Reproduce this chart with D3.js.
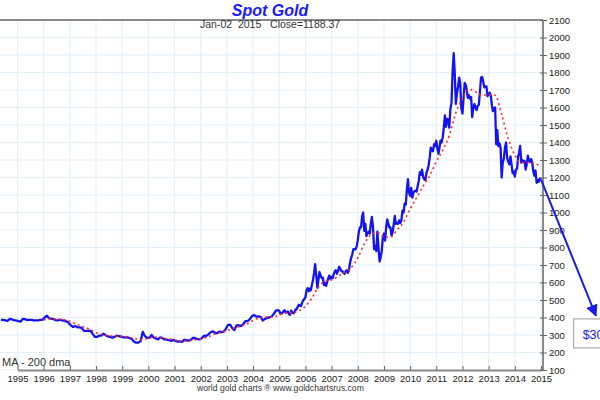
<!DOCTYPE html>
<html><head><meta charset="utf-8">
<script src="https://cdn.jsdelivr.net/npm/d3@7"></script>
<style>body{margin:0;background:#fff;}svg{display:block;font-family:"Liberation Sans",Arial,sans-serif;}</style>
</head><body>
<svg id="c" width="600" height="400"></svg>
<script>
// Spot gold, monthly (mid-month) from May 1994 to Dec 2004
const monthlyStart = [1994, 4];
const monthlyPrices = [
387,386,384,380,392,389,384,383,
379,376,392,391,385,387,386,383,384,383,387,387,
400,410,396,393,391,385,383,387,383,381,378,369,
355,346,352,344,344,341,324,324,323,325,306,289,
289,297,296,308,299,292,289,284,289,296,294,291,
287,287,286,282,277,262,256,257,265,318,293,283,
285,300,286,280,275,286,282,275,274,270,266,272,
266,262,263,260,272,270,268,273,283,283,276,275,
282,296,294,302,314,321,313,310,319,317,319,333,
357,359,340,328,355,356,351,360,379,379,389,407,
414,405,406,404,383,392,398,400,405,420,439,442
];
// Spot gold, twice a month (1st and 16th) from Jan 2005 to Dec 2014
const halfMonthStart = [2005, 0];
const halfMonthPrices = [
438,422,422,428,435,442,427,430,434,420,416,440,430,424,430,445,448,462,473,468,465,485,498,505,
516,555,568,550,565,555,585,615,655,705,640,570,615,660,640,625,628,585,598,580,605,625,640,620,
632,625,650,665,670,650,665,690,680,665,665,655,650,665,670,655,672,715,740,760,790,790,790,805,
840,890,915,915,975,1000,895,935,865,880,890,880,935,975,915,790,810,780,890,800,720,745,780,860,
880,840,920,960,940,915,915,870,885,930,980,935,940,935,955,940,955,1010,1000,1050,1045,1130,1190,1115,
1095,1140,1085,1115,1120,1125,1120,1150,1180,1230,1215,1245,1205,1190,1185,1225,1245,1270,1315,1370,1355,1350,1390,1380,
1410,1365,1335,1375,1410,1400,1430,1485,1555,1490,1535,1530,1485,1590,1625,1800,1910,1790,1620,1680,1720,1770,1740,1595,
1565,1650,1740,1730,1700,1655,1670,1650,1660,1545,1600,1620,1600,1585,1610,1615,1690,1770,1775,1750,1715,1720,1720,1665,
1675,1685,1665,1610,1580,1595,1600,1390,1470,1380,1395,1370,1200,1285,1310,1370,1400,1310,1290,1275,1320,1275,1225,1235,
1205,1245,1250,1320,1340,1380,1285,1300,1290,1295,1245,1275,1325,1300,1290,1305,1285,1235,1210,1240,1170,1185,1175,1195
];
const lastDate = [2015, 0, 2];
const lastClose = 1188.37;

// 200-day moving average, quarterly from Jan 1996
const maStart = [1996, 0];
const maValues = [
386,392,392,388, 378,362,349,333, 313,303,296,294, 293,288,278,272,
282,288,283,278, 272,265,266,272, 278,287,303,313, 325,339,348,362,
383,398,402,402, 415,428,428,438, 465,510,575,605, 615,635,660,685,
740,820,872,885, 860,860,900,945, 1020,1085,1150,1210, 1290,1355,1440,1570,
1650,1705,1690,1670, 1672,1670,1560,1420, 1330,1285,1285,1280, 1265
];

const yTicks = d3.range(100, 2101, 100);
const title = "Spot Gold";
const subtitle = "Jan-02  2015   Close=1188.37";
const maLabel = "MA - 200 dma";
const footer = "world gold charts \u00AE www.goldchartsrus.com";
const forecastLabel = "$300";
const arrowTo = [2017, 1, 5, 410];      // date parts + price at arrow tip
const boxCorner = [2016, 3, 1, 392];     // top-left of label box
const boxBottom = 226;

const svg = d3.select("#c");
const x = d3.scaleTime().domain([new Date(1995,0,1), new Date(2015,0,1)]).range([17.5, 541]);
const y = d3.scaleLinear().domain([100, 2100]).range([370, 20]);

const priceData = monthlyPrices.map((v,i)=>({d: new Date(monthlyStart[0], monthlyStart[1]+i, 15), v}))
  .concat(halfMonthPrices.map((v,i)=>({d: new Date(halfMonthStart[0], halfMonthStart[1]+Math.floor(i/2), i%2 ? 16 : 1), v})));
priceData.push({d: new Date(...lastDate), v: lastClose});
const maData = maValues.map((v,i)=>({d: new Date(maStart[0], maStart[1]+3*i, 1), v}));
maData[maData.length-1].d = new Date(...lastDate);

const defs = svg.append("defs");
defs.append("clipPath").attr("id","clip")
  .append("rect").attr("x",0).attr("y",20).attr("width",543).attr("height",350);
defs.append("marker").attr("id","ah").attr("viewBox","0 0 10 10")
  .attr("refX",9).attr("refY",5).attr("markerWidth",6).attr("markerHeight",6)
  .attr("orient","auto").attr("markerUnits","strokeWidth")
  .append("path").attr("d","M0,0L10,5L0,10z").attr("fill","#1a1aee");

// grid
const years = d3.timeYear.range(new Date(1994,0,1), new Date(2015,0,2));
const grid = svg.append("g").attr("clip-path","url(#clip)");
grid.selectAll("line.v").data(years).join("line")
  .attr("x1",d=>x(d)).attr("x2",d=>x(d)).attr("y1",20).attr("y2",370)
  .attr("stroke","#e4f1fb").attr("stroke-width",1.2);
grid.selectAll("line.h").data(yTicks).join("line")
  .attr("x1",0).attr("x2",543).attr("y1",d=>y(d)).attr("y2",d=>y(d))
  .attr("stroke","#e4f1fb").attr("stroke-width",1.2);

const plot = svg.append("g").attr("clip-path","url(#clip)");
plot.append("path").datum(priceData)
  .attr("d", d3.line().x(d=>x(d.d)).y(d=>y(d.v)))
  .attr("fill","none").attr("stroke","#1414f0").attr("stroke-width",2.3).attr("stroke-linejoin","round");
plot.append("path").datum(maData)
  .attr("d", d3.line().curve(d3.curveMonotoneX).x(d=>x(d.d)).y(d=>y(d.v)))
  .attr("fill","none").attr("stroke","#ff2a2a").attr("stroke-width",1.6).attr("stroke-dasharray","2,3");

// top frame
svg.append("line").attr("x1",0).attr("x2",543).attr("y1",20).attr("y2",20)
  .attr("stroke","#8a8a8a").attr("stroke-width",2);

// axes
const xAxis = svg.append("g").attr("transform","translate(0,370)")
  .call(d3.axisBottom(x).tickValues(years.slice(1)).tickFormat(d3.timeFormat("%Y")).tickSizeInner(-4).tickSizeOuter(0).tickPadding(5));
xAxis.select(".domain").attr("stroke","#8a8a8a").attr("stroke-width",2);
xAxis.selectAll(".tick line").attr("stroke","#666");
xAxis.selectAll("text").attr("font-size","9.5px").attr("fill","#222").attr("font-family","Liberation Sans, Arial, sans-serif");

const yAxis = svg.append("g").attr("transform","translate(543,0)")
  .call(d3.axisRight(y).tickValues(yTicks).tickFormat(d3.format("d")).tickSize(4).tickPadding(2));
yAxis.select(".domain").attr("stroke","#8a8a8a").attr("stroke-width",2).attr("d","M0,20V370");
yAxis.selectAll(".tick line").attr("stroke","#666").attr("x1",-3);
yAxis.selectAll("text").attr("font-size","9.5px").attr("fill","#222").attr("font-family","Liberation Sans, Arial, sans-serif");

// texts
svg.append("text").attr("x",270).attr("y",16).attr("text-anchor","middle")
  .attr("font-size","16px").attr("font-weight","bold").attr("font-style","italic").attr("fill","#1a1aff").text(title);
svg.append("text").attr("x",200).attr("y",28).attr("font-size","10.5px").attr("fill","#333")
  .attr("xml:space","preserve").style("white-space","pre").text(subtitle);
svg.append("text").attr("x",2).attr("y",366).attr("font-size","11px").attr("fill","#333").text(maLabel);
svg.append("text").attr("x",197).attr("y",391).attr("font-size","8.6px").attr("fill","#333").text(footer);

// forecast arrow + box
const tip = [x(new Date(arrowTo[0],arrowTo[1],arrowTo[2])), y(arrowTo[3])];
svg.append("line").attr("x1",x(new Date(...lastDate))).attr("y1",y(lastClose))
  .attr("x2",tip[0]).attr("y2",tip[1])
  .attr("stroke","#1a1aee").attr("stroke-width",2).attr("marker-end","url(#ah)");
const bx = x(new Date(boxCorner[0],boxCorner[1],boxCorner[2])), by = y(boxCorner[3]);
svg.append("rect").attr("x",bx).attr("y",by).attr("width",60).attr("height",y(boxBottom)-by)
  .attr("fill","#fff").attr("stroke","#999").attr("stroke-width",1);
svg.append("text").attr("x",bx+9).attr("y",by+20).attr("font-size","12.5px").attr("fill","#1a1aee").text(forecastLabel);
</script>
</body></html>
